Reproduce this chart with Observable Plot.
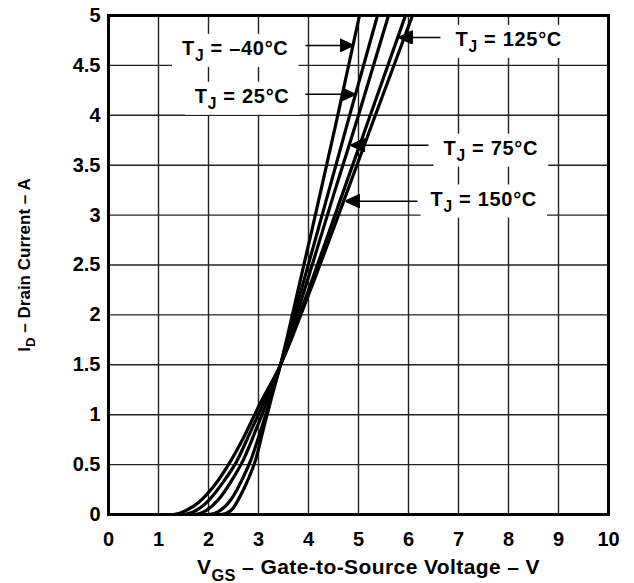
<!DOCTYPE html>
<html><head><meta charset="utf-8">
<script src="https://cdn.jsdelivr.net/npm/d3@7"></script>
<script src="https://cdn.jsdelivr.net/npm/@observablehq/plot@0.6"></script>
<style>
body{margin:0;background:#fff;}
svg text{font-family:"Liberation Sans",Arial,sans-serif;font-weight:bold;}
</style></head><body><div id="chart"></div>
<script>
// Gate-to-source voltage (V) and drain current (A) for each junction temperature
const vgsM40 = [0, 2.25, 2.45, 2.65, 2.8, 2.95, 3.1, 3.25, 3.44, 3.7, 4.1, 4.55, 5.02];
const idM40  = [0, 0, 0.04, 0.2, 0.36, 0.56, 0.86, 1.15, 1.5, 2.05, 2.92, 3.92, 5.0];
const vgs25  = [0, 2.0, 2.2, 2.45, 2.7, 2.85, 3.05, 3.25, 3.44, 3.8, 4.3, 4.85, 5.38];
const id25   = [0, 0, 0.03, 0.15, 0.38, 0.55, 0.85, 1.18, 1.5, 2.15, 3.05, 4.05, 5.0];
const vgs75  = [0, 1.7, 1.95, 2.2, 2.45, 2.7, 2.95, 3.2, 3.44, 4.0, 4.5, 5.0, 5.6];
const id75   = [0, 0, 0.04, 0.15, 0.33, 0.55, 0.85, 1.17, 1.5, 2.38, 3.2, 4.0, 5.0];
const vgs125 = [0, 1.5, 1.75, 2.0, 2.3, 2.55, 2.85, 3.15, 3.44, 4.0, 4.6, 5.2, 5.94];
const id125  = [0, 0, 0.04, 0.14, 0.33, 0.52, 0.84, 1.17, 1.5, 2.25, 3.1, 3.95, 5.0];
const vgs150 = [0, 1.3, 1.55, 1.8, 2.1, 2.4, 2.7, 3.0, 3.44, 4.0, 4.6, 5.3, 6.08];
const id150  = [0, 0, 0.04, 0.12, 0.28, 0.5, 0.77, 1.08, 1.5, 2.2, 3.0, 3.95, 5.0];

const temps = ["–40°C", "25°C", "75°C", "125°C", "150°C"];
const xTicks = [0, 1, 2, 3, 4, 5, 6, 7, 8, 9, 10];
const yTicks = [0, 0.5, 1, 1.5, 2, 2.5, 3, 3.5, 4, 4.5, 5];
const xTitle = "VGS – Gate-to-Source Voltage – V";
const yTitle = "ID – Drain Current – A";

// label anchor (tx,ty), arrow from -> to at height ay, in data units
const labelSide = ["end", "end", "start", "start", "start"];
const labelTx = [3.6, 3.62, 6.7, 6.94, 6.44];
const labelTy = [4.67, 4.19, 3.67, 4.76, 3.16];
const arrowFrom = [3.94, 3.94, 6.4, 6.64, 6.18];
const arrowTo = [4.9, 4.94, 4.84, 5.8, 4.74];
const arrowY = [4.70, 4.21, 3.70, 4.78, 3.14];

const seriesX = [vgsM40, vgs25, vgs75, vgs125, vgs150];
const seriesY = [idM40, id25, id75, id125, id150];
const rows = temps.flatMap((t, k) => seriesX[k].map((x, i) => ({t, vgs: x, id: seriesY[k][i]})));
const ann = temps.map((t, k) => ({label: "TJ = " + t, side: labelSide[k], tx: labelTx[k], ty: labelTy[k],
  from: arrowFrom[k], to: arrowTo[k], ay: arrowY[k]}));

function filledArrow(color) {
  const m = d3.create("svg:marker")
    .attr("viewBox", "-14 -7 14 14").attr("markerWidth", 14).attr("markerHeight", 14)
    .attr("markerUnits", "userSpaceOnUse").attr("refX", 0).attr("refY", 0).attr("orient", "auto");
  m.append("path").attr("d", "M-14,-6.5L0,0L-14,6.5Z").attr("fill", color);
  return m.node();
}

const annFont = 20, xTitleFont = 21, yTitleFont = 17;
const plot = Plot.plot({
  width: 634, height: 583,
  marginLeft: 108, marginRight: 26, marginTop: 15, marginBottom: 69,
  x: {domain: [0, 10]},
  y: {domain: [0, 5]},
  marks: [
    Plot.gridX(xTicks, {stroke: "#222", strokeOpacity: 1, strokeWidth: 1.4}),
    Plot.gridY(yTicks, {stroke: "#222", strokeOpacity: 1, strokeWidth: 1.4}),
    Plot.axisX(xTicks, {tickSize: 0, tickPadding: 17, fontSize: 20, label: null, tickFormat: d => String(d), fill: "#000"}),
    Plot.axisY(yTicks, {tickSize: 0, tickPadding: 8, fontSize: 20, label: null, tickFormat: d => String(d), fill: "#000"}),
    Plot.line(rows, {x: "vgs", y: "id", z: "t", stroke: "#000", strokeWidth: 3.2, curve: "monotone-x"}),
    Plot.link(ann, {x1: "from", x2: "to", y1: "ay", y2: "ay", stroke: "#000", strokeWidth: 1.5, markerEnd: filledArrow}),
    Plot.text(ann.filter(d => d.side === "end"), {x: "tx", y: "ty", text: "label", textAnchor: "end", fontSize: annFont, fill: "#000", className: "annlabel"}),
    Plot.text(ann.filter(d => d.side === "start"), {x: "tx", y: "ty", text: "label", textAnchor: "start", fontSize: annFont, fill: "#000", className: "annlabel"}),
    Plot.frame({stroke: "#000", strokeWidth: 3}),
    Plot.text([xTitle], {frameAnchor: "bottom", dy: 53, dx: 10, lineAnchor: "middle", textAnchor: "middle", fontSize: xTitleFont, fill: "#000"}),
    Plot.text([yTitle], {frameAnchor: "left", dx: -84, rotate: -90, lineAnchor: "middle", textAnchor: "middle", fontSize: yTitleFont, fill: "#000"})
  ]
});
document.getElementById("chart").appendChild(plot);

// subscripts: first letter normal, following subscript letters, rest normal
function subscriptify(el, base, sub, rest, size) {
  el.textContent = "";
  const ns = "http://www.w3.org/2000/svg";
  const shift = size * 0.3;
  const a = document.createElementNS(ns, "tspan"); a.textContent = base; el.appendChild(a);
  const b = document.createElementNS(ns, "tspan"); b.textContent = sub;
  b.setAttribute("font-size", size * 0.78); b.setAttribute("dy", shift); el.appendChild(b);
  const c = document.createElementNS(ns, "tspan"); c.textContent = rest;
  c.setAttribute("dy", -shift); el.appendChild(c);
}
const svgRect = plot.getBoundingClientRect();
d3.select(plot).selectAll("text").each(function () {
  const s = this.textContent;
  if (s.startsWith("TJ")) { subscriptify(this, "T", "J", s.slice(2), annFont); this.style.letterSpacing = "0.7px"; }
  else if (s.startsWith("VGS")) { subscriptify(this, "V", "GS", s.slice(3), xTitleFont); this.style.letterSpacing = "0.4px"; }
  else if (s.startsWith("ID")) { subscriptify(this, "I", "D", s.slice(2), yTitleFont); }
});
// white boxes behind the temperature labels
d3.select(plot).selectAll(".annlabel text").each(function () {
  const r = this.getBoundingClientRect();
  const g = this.parentNode;
  const rect = document.createElementNS("http://www.w3.org/2000/svg", "rect");
  rect.setAttribute("x", r.left - svgRect.left - 10);
  rect.setAttribute("y", r.top - svgRect.top - 3);
  rect.setAttribute("width", r.width + 20);
  rect.setAttribute("height", r.height + 6);
  rect.setAttribute("fill", "#fff");
  g.parentNode.insertBefore(rect, g);
});
</script></body></html>
